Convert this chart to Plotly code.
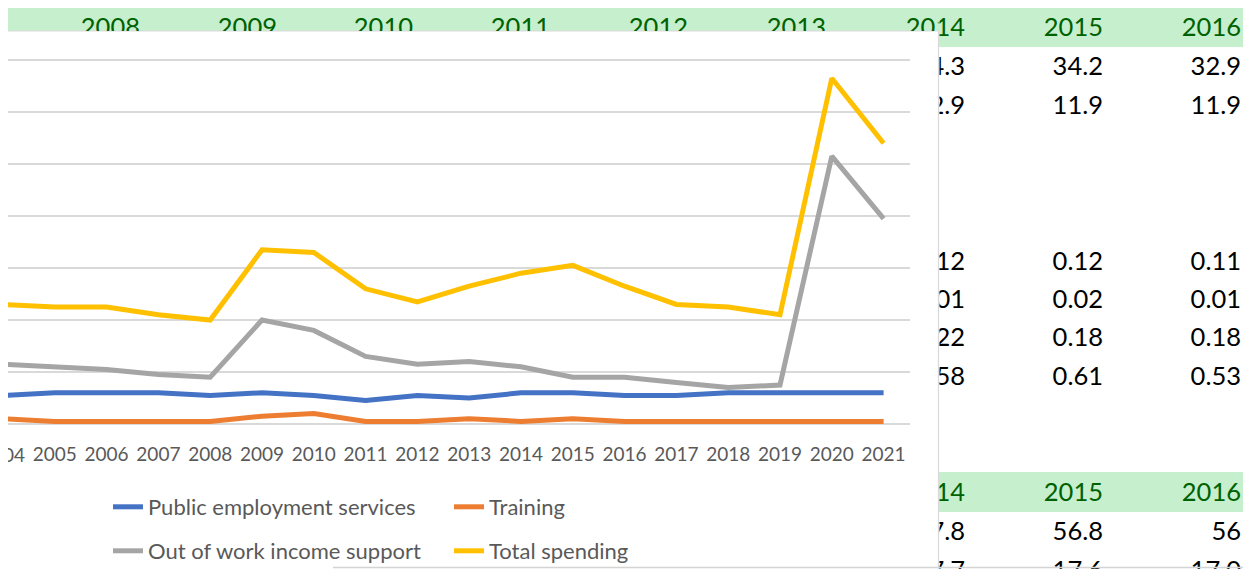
import plotly.graph_objects as go

# labour market spending, % of GDP
years = list(range(2004, 2022))
pes = [0.11, 0.12, 0.12, 0.12, 0.11, 0.12, 0.11, 0.09, 0.11, 0.10, 0.12, 0.12, 0.11, 0.11, 0.12, 0.12, 0.12, 0.12]
training = [0.02, 0.01, 0.01, 0.01, 0.01, 0.03, 0.04, 0.01, 0.01, 0.02, 0.01, 0.02, 0.01, 0.01, 0.01, 0.01, 0.01, 0.01]
out_of_work = [0.23, 0.22, 0.21, 0.19, 0.18, 0.40, 0.36, 0.26, 0.23, 0.24, 0.22, 0.18, 0.18, 0.16, 0.14, 0.15, 1.03, 0.79]
total = [0.46, 0.45, 0.45, 0.42, 0.40, 0.67, 0.66, 0.52, 0.47, 0.53, 0.58, 0.61, 0.53, 0.46, 0.45, 0.42, 1.33, 1.08]

series_names = ["Public employment services", "Training", "Out of work income support", "Total spending"]
series_colors = ["#4472C4", "#ED7D31", "#A5A5A5", "#FFC000"]

# spreadsheet behind the chart
sheet_years = ["2008", "2009", "2010", "2011", "2012", "2013", "2014", "2015", "2016"]
row_a = ["34.3", "34.2", "32.9"]
row_b = ["12.9", "11.9", "11.9"]
row_pes = ["0.12", "0.12", "0.11"]
row_training = ["0.01", "0.02", "0.01"]
row_owis = ["0.22", "0.18", "0.18"]
row_total = ["0.58", "0.61", "0.53"]
row_header2 = ["2014", "2015", "2016"]
row_c = ["57.8", "56.8", "56"]
row_d = ["17.7", "17.6", "17.0"]

# the page keeps an 8px body margin, so the figure starts at (8, 8);
# positions below are given in window pixels
OFF = 8
W, H = 1251, 569


def px(x):
    return (x - OFF) / W


def py(y):
    return 1 - (y - OFF) / H


col_right = [140, 277, 413, 550, 688, 826, 965, 1103, 1241]
right_cols = col_right[6:]
sheet_font = dict(family="Lato", size=25.5)

fig = go.Figure()

for i, (name, vals, col) in enumerate(zip(series_names, [pes, training, out_of_work, total], series_colors)):
    fig.add_trace(go.Scatter(x=years, y=vals, mode="lines", name=name,
                             line=dict(color=col, width=5),
                             legend="legend" if i < 2 else "legend2",
                             xaxis="x", yaxis="y"))

# header strip above the chart (cut by the chart box)
fig.add_trace(go.Scatter(x=col_right[:7], y=[30] * 7, mode="text", text=sheet_years[:7],
                         textposition="middle left", cliponaxis=True, showlegend=False, hoverinfo="skip",
                         textfont=dict(sheet_font, color="#006100"),
                         xaxis="x2", yaxis="y2"))

# cells right of the chart
rows = [(row_a, 69, "black"), (row_b, 108, "black"), (row_pes, 264, "black"),
        (row_training, 302, "black"), (row_owis, 340, "black"), (row_total, 379, "black"),
        (sheet_years[6:], 30, "#006100"), (row_header2, 495, "#006100"),
        (row_c, 534, "black"), (row_d, 572.5, "black")]
for vals, yy, col in rows:
    fig.add_trace(go.Scatter(x=right_cols, y=[yy] * 3, mode="text", text=vals,
                             textposition="middle left", cliponaxis=True, showlegend=False, hoverinfo="skip",
                             textfont=dict(sheet_font, color=col),
                             xaxis="x3", yaxis="y3"))

shapes = [
    dict(type="rect", xref="paper", yref="paper", x0=px(8), x1=px(1247), y0=py(47), y1=py(8),
         fillcolor="#C6EFCE", line=dict(width=0), layer="below"),
    dict(type="rect", xref="paper", yref="paper", x0=px(8), x1=px(1247), y0=py(512), y1=py(472),
         fillcolor="#C6EFCE", line=dict(width=0), layer="below"),
    dict(type="rect", xref="paper", yref="paper", x0=-0.02, x1=px(938.5), y0=-0.1, y1=py(31),
         fillcolor="white", line=dict(color="#D9D9D9", width=1.2), layer="below"),
    dict(type="line", xref="paper", yref="paper", x0=px(333), x1=1, y0=py(567.5), y1=py(567.5),
         line=dict(color="#D4D4D4", width=1.5), layer="above"),
]

legend_style = dict(orientation="h", xanchor="left", yanchor="middle", entrywidth=296,
                    entrywidthmode="pixels", bgcolor="rgba(0,0,0,0)", itemwidth=30,
                    font=dict(family="Lato", size=22, color="#595959"))

tick_font = dict(family="Lato", size=19, color="#595959")
step = 51.8  # px per year in the reference
ymax = 1.42  # a little headroom so the 1.4 gridline is drawn
y_top = 424 - ymax * (364 / 1.4)

fig.update_layout(
    width=W, height=H,
    margin=dict(l=0, r=0, t=0, b=0),
    paper_bgcolor="white", plot_bgcolor="rgba(0,0,0,0)",
    shapes=shapes,
    xaxis=dict(domain=[0, px(909.5)], range=[2004 + (OFF - 3) / step, 2021.5], tickvals=years,
               ticktext=[str(y) for y in years], showgrid=False, zeroline=False, showline=False,
               ticks="", ticklabelstandoff=17, ticklabeloverflow="allow", anchor="y",
               tickfont=tick_font),
    yaxis=dict(domain=[py(424), py(y_top)], range=[0, ymax], tick0=0, dtick=0.2, showgrid=True,
               gridcolor="#D9D9D9", gridwidth=1.5, zeroline=True, zerolinecolor="#D9D9D9",
               zerolinewidth=1.5, showticklabels=False, anchor="x"),
    xaxis2=dict(domain=[0, px(938.5)], range=[OFF, 938.5], visible=False, anchor="y2"),
    yaxis2=dict(domain=[py(31), 1], range=[31, OFF], visible=False, anchor="x2"),
    xaxis3=dict(domain=[px(939.5), 1], range=[939.5, OFF + W], visible=False, anchor="y3"),
    yaxis3=dict(domain=[0, 1], range=[OFF + H, OFF], visible=False, anchor="x3"),
    legend=dict(legend_style, x=px(108), y=py(507)),
    legend2=dict(legend_style, x=px(108), y=py(551)),
    # first category label sits half outside the window
    annotations=[dict(xref="paper", yref="paper", x=px(3), y=py(454), text=str(years[0]),
                      showarrow=False, xanchor="center", yanchor="middle", font=tick_font)],
    hovermode=False,
)

fig.write_html("out.html")
